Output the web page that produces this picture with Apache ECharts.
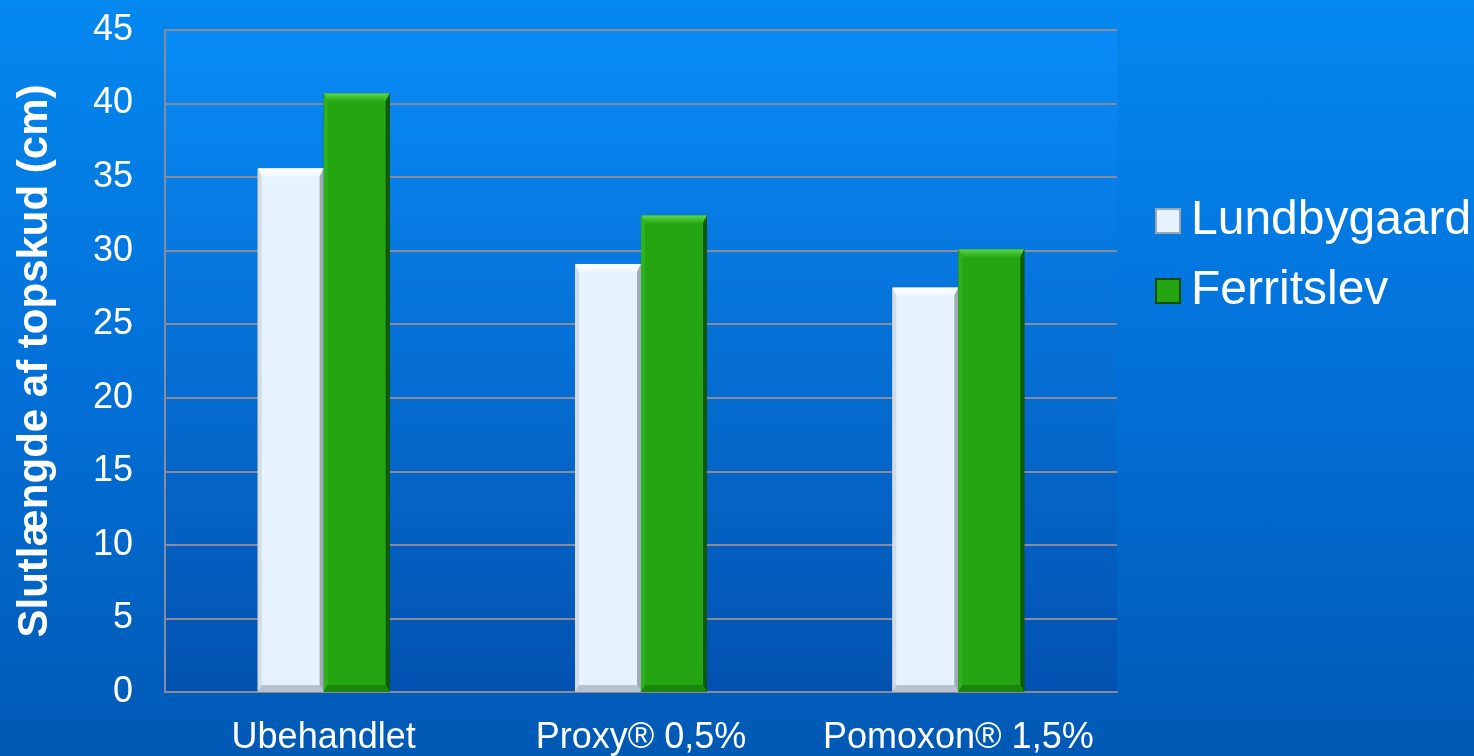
<!DOCTYPE html>
<html><head><meta charset="utf-8">
<script src="https://cdn.jsdelivr.net/npm/echarts@6/dist/echarts.min.js"></script>
<style>html,body{margin:0;padding:0;}#c{width:1474px;height:756px;background:linear-gradient(to bottom,#0388ef 0%,#0270d8 50%,#0059b4 100%);}</style>
</head><body><div id="c"></div>
<script>
const categories = ['Ubehandlet', 'Proxy® 0,5%', 'Pomoxon® 1,5%'];
const seriesNames = ['Lundbygaard', 'Ferritslev'];
const lundbygaard = [35.6, 29.1, 27.5];
const ferritslev = [40.7, 32.4, 30.1];
const yTicks = {min: 0, max: 45, interval: 5};

const chart = echarts.init(document.getElementById('c'));
const font = 'Liberation Sans, Arial, sans-serif';
const BAR_FRAC = 0.208;
const bevelColors = [
  {top: ['#ffffff', '#eef6fd'], left: '#d4dde6', right: '#9eaab6', bottom: '#b7c2cd'},
  {top: ['#5ad846', '#2aa818'], left: '#2fb01d', right: '#11590a', bottom: '#1b840d'}
];
function bevelSeries(idx, values) {
  return {
    type: 'custom', name: 'bevel' + idx, silent: true, z: 5,
    data: values.map((v, i) => [i, v]),
    renderItem: function (params, api) {
      const cat = api.value(0), val = api.value(1);
      const top = api.coord([cat, val]);
      const base = api.coord([cat, 0]);
      const bw = api.size([1, 0])[0] * BAR_FRAC;
      const x0 = top[0] - bw + idx * bw, x1 = x0 + bw;
      const y0 = top[1], y1 = base[1];
      const s = 4, t = 8, b = 7;
      const c = bevelColors[idx];
      return {
        type: 'group', children: [
          {type: 'polygon', shape: {points: [[x0, y0], [x1, y0], [x1 - s, y0 + t], [x0 + s, y0 + t]]},
           style: {fill: new echarts.graphic.LinearGradient(0, 0, 0, 1, [{offset: 0, color: c.top[0]}, {offset: 1, color: c.top[1]}])}},
          {type: 'polygon', shape: {points: [[x0, y0], [x0 + s, y0 + t], [x0 + s, y1 - b], [x0, y1]]},
           style: {fill: c.left}},
          {type: 'polygon', shape: {points: [[x1, y0], [x1 - s, y0 + t], [x1 - s, y1 - b], [x1, y1]]},
           style: {fill: c.right}},
          {type: 'polygon', shape: {points: [[x0, y1], [x1, y1], [x1 - s, y1 - b], [x0 + s, y1 - b]]},
           style: {fill: c.bottom}}
        ]
      };
    }
  };
}
chart.setOption({
  animation: false,
  backgroundColor: 'transparent',
  grid: {left: 165, right: 357, top: 30, bottom: 63, containLabel: false,
         show: true, borderWidth: 0,
         backgroundColor: new echarts.graphic.LinearGradient(0, 0, 0, 1, [{offset: 0, color: '#088cf8'}, {offset: 1, color: '#0252b0'}])},
  legend: {
    orient: 'vertical', left: 1150, top: 192, itemWidth: 24, itemHeight: 24, itemGap: 22,
    icon: 'rect',
    textStyle: {color: '#fff', fontSize: 48, fontFamily: font, padding: [0, 0, 0, 6]},
    data: seriesNames
  },
  xAxis: {
    type: 'category', data: categories,
    axisLine: {show: true, lineStyle: {color: '#8a8a9a', width: 2}},
    axisTick: {show: false},
    axisLabel: {color: '#fff', fontSize: 36, fontFamily: font, margin: 28, interval: 0}
  },
  yAxis: {
    type: 'value', min: yTicks.min, max: yTicks.max, interval: yTicks.interval,
    name: 'Slutlængde af topskud (cm)', nameLocation: 'middle', nameGap: 109, nameRotate: 90,
    nameTextStyle: {color: '#fff', fontSize: 42, fontWeight: 'bold', fontFamily: font},
    axisLine: {show: true, lineStyle: {color: '#8a8a9a', width: 2}},
    axisTick: {show: false},
    splitLine: {lineStyle: {color: '#8a8a9a', width: 2}},
    axisLabel: {color: '#fff', fontSize: 36, fontFamily: font, margin: 32}
  },
  series: [
    {name: seriesNames[0], type: 'bar', data: lundbygaard, barGap: '0%', barWidth: (BAR_FRAC * 100) + '%',
     itemStyle: {color: '#e6f3fd', borderColor: '#9aa6b2', borderWidth: 1}},
    {name: seriesNames[1], type: 'bar', data: ferritslev, barWidth: (BAR_FRAC * 100) + '%',
     itemStyle: {color: '#24a512', borderColor: '#0f4f08', borderWidth: 1}},
    bevelSeries(0, lundbygaard),
    bevelSeries(1, ferritslev)
  ]
});
</script></body></html>
